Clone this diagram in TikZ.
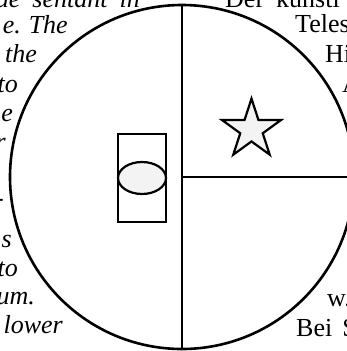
\documentclass[tikz,border=0pt]{standalone}
\usepackage{fontspec}
\setmainfont{Liberation Serif}
\usetikzlibrary{shapes.geometric}
\definecolor{figink}{HTML}{000000}
\definecolor{figfill}{HTML}{F3F3F3}
\tikzset{
  fig/.style={draw=figink, line width=2.2pt, inner sep=0pt},
  leftline/.style={font=\itshape\fontsize{26}{31}\selectfont, text=figink,
    anchor=base east, inner sep=0pt},
  rightline/.style={font=\fontsize{26}{31}\selectfont, text=figink,
    anchor=base west, inner sep=0pt},
}
\begin{document}
\begin{tikzpicture}[x=1pt, y=-1pt]
  \useasboundingbox (0,0) rectangle (347,351);
  \clip (0,0) rectangle (347,351);
  \node[leftline] (l1) at (140,7) {ue\hspace{12pt}sentant\hspace{12pt}in};
  \node[leftline] (l2) at (68,33) {e.\hspace{8pt}The};
  \node[leftline] (l3) at (37,62) {the};
  \node[leftline] (l4) at (18,92) {to};
  \node[leftline] (l5) at (13,121) {e};
  \node[leftline] (l6) at (6,150) {r};
  \node[leftline] (l7) at (4,206) {-};
  \node[leftline] (l8) at (12,247) {s};
  \node[leftline] (l9) at (18,276) {to};
  \node[leftline] (l10) at (35,304) {um.};
  \node[leftline] (l11) at (63,333) {lower};
  \node[rightline] (r1) at (225,7) {Der\hspace{12pt}künstl};
  \node[rightline] (r2) at (295,32) {Teles};
  \node[rightline] (r3) at (325,62) {Hi};
  \node[rightline] (r4) at (342,92) {A};
  \node[rightline] (r5) at (327,306) {w.};
  \node[rightline] (r6) at (296,336) {Bei\hspace{10pt}S};
  \node[fig, circle, fill=white, line width=2.6pt, minimum size=344pt] (disk) at (182,177) {};
  \draw[fig] (disk.north) -- (disk.south);
  \draw[fig] (disk.center) -- (disk.east);
  \node[fig, rectangle, minimum width=48pt, minimum height=88pt] (box) at (142,178) {};
  \node[fig, ellipse, fill=figfill, minimum width=48pt, minimum height=32pt] (lens) at (142,178) {};
  \node[fig, star, star points=5, star point ratio=2.618, fill=figfill,
    minimum size=62pt] (mark) at (251.5,129.6) {};
\end{tikzpicture}
\end{document}
